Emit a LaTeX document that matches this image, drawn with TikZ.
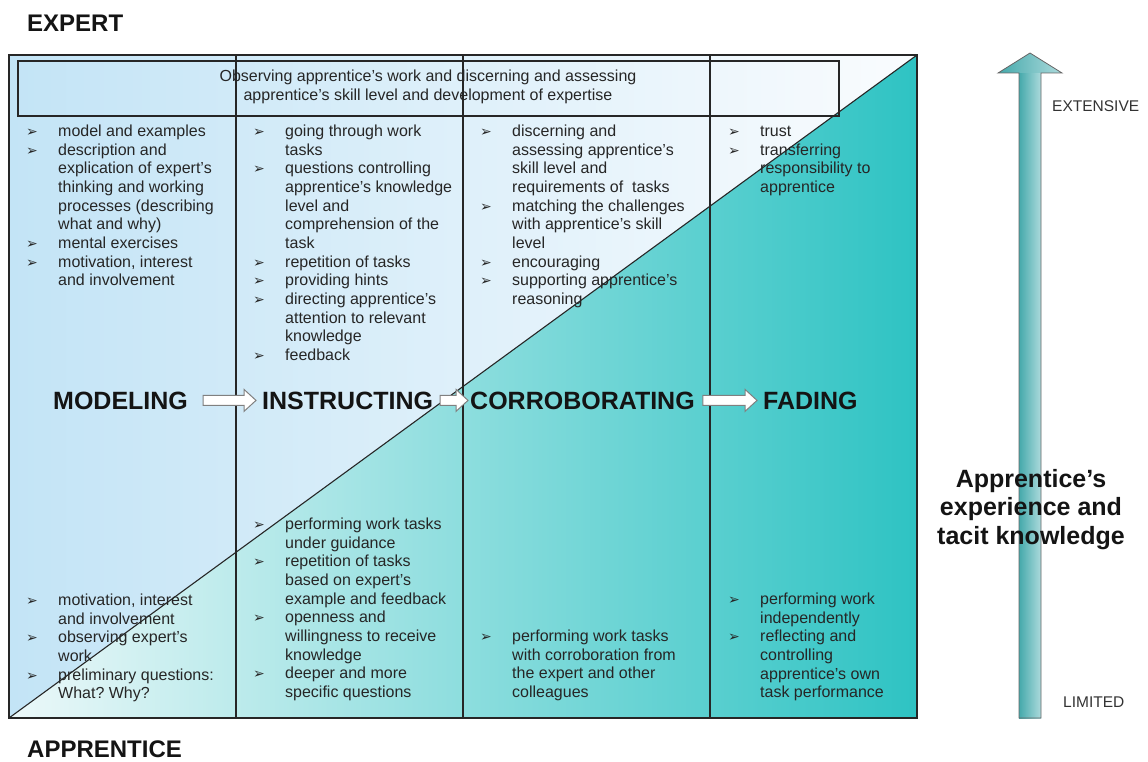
\documentclass[tikz,border=0pt]{standalone}
\usepackage{fontspec}
\setmainfont{Liberation Sans}
\newfontfamily\bulfont{DejaVu Sans}
\usetikzlibrary{calc}
\frenchspacing
\definecolor{txt}{HTML}{262626}
\definecolor{upL}{HTML}{C3E4F6}
\definecolor{upR}{HTML}{FAFCFE}
\definecolor{loL}{HTML}{ECF8F9}
\definecolor{loR}{HTML}{2EC3C3}
\definecolor{arL}{HTML}{45A9AB}
\definecolor{arR}{HTML}{ACDADC}
\newcommand\bl{\makebox[32pt][l]{\bulfont\fontsize{14}{14}\selectfont ➢}}
\newcommand\cn{\hspace*{32pt}}
\newcommand\blockarr[2]{\draw[barrow] let \p1=#1, \p2=#2 in
  (\x1,\y1+5pt) -- (\x2-12pt,\y1+5pt) -- (\x2-12pt,\y1+11pt) -- (\x2,\y1)
  -- (\x2-12pt,\y1-11pt) -- (\x2-12pt,\y1-5pt) -- (\x1,\y1-5pt) -- cycle;}
\tikzset{
  body/.style={anchor=base west, inner sep=0pt, font=\fontsize{16}{18.67}\selectfont, text=txt},
  stage/.style={anchor=base west, inner sep=0pt, font=\fontsize{25}{30}\selectfont\bfseries, text=black!92},
  role/.style={anchor=base west, inner sep=0pt, font=\fontsize{24}{28}\selectfont\bfseries, text=black!92},
  scale label/.style={anchor=base west, inner sep=0pt, font=\fontsize{15.5}{18}\selectfont, text=black!80},
  frame/.style={draw=black!85, line width=1.1pt},
  barrow/.style={draw=black!50, fill=white, line width=1pt},
}
\begin{document}
\begin{tikzpicture}[x=1pt,y=-1pt]
\useasboundingbox (0,0) rectangle (1148,762);
% background triangles
\shade[left color=upL, right color=upR] (9,55) -- (917,55) -- (9,718) -- cycle;
\shade[left color=loL, right color=loR] (9,718) -- (917,55) -- (917,718) -- cycle;
% frame and grid
\draw[frame] (9,55) rectangle (917,718);
\draw[frame] (18,61) rectangle (839,116);
\draw[frame] (236,55) -- (236,718);
\draw[frame] (463,55) -- (463,718);
\draw[frame] (710,55) -- (710,718);
\draw[frame] (9,718) -- (917,55);

% role labels
\node[role] (expert) at (27,32) {EXPERT};
\node[role] (apprentice) at (27,757) {APPRENTICE};

% top box text
\node[anchor=base, inner sep=0pt, font=\fontsize{16}{19}\selectfont, text=txt] (obs) at (428,82)
  {\begin{tabular}[t]{@{}c@{}}Observing apprentice's work and discerning and assessing\\
   apprentice's skill level and development of expertise\end{tabular}};

% upper columns
\node[body] (c1u) at (26,136.5) {\begin{tabular}[t]{@{}l@{}}
\bl model and examples\\
\bl description and\\
\cn explication of expert's\\
\cn thinking and working\\
\cn processes (describing\\
\cn what and why)\\
\bl mental exercises\\
\bl motivation, interest\\
\cn and involvement
\end{tabular}};
\node[body] (c2u) at (253,136.5) {\begin{tabular}[t]{@{}l@{}}
\bl going through work\\
\cn tasks\\
\bl questions controlling\\
\cn apprentice's knowledge\\
\cn level and\\
\cn comprehension of the\\
\cn task\\
\bl repetition of tasks\\
\bl providing hints\\
\bl directing apprentice's\\
\cn attention to relevant\\
\cn knowledge\\
\bl feedback
\end{tabular}};
\node[body] (c3u) at (480,136.5) {\begin{tabular}[t]{@{}l@{}}
\bl discerning and\\
\cn assessing apprentice's\\
\cn skill level and\\
\cn requirements of~ tasks\\
\bl matching the challenges\\
\cn with apprentice's skill\\
\cn level\\
\bl encouraging\\
\bl supporting apprentice's\\
\cn reasoning
\end{tabular}};
\node[body] (c4u) at (728,136.5) {\begin{tabular}[t]{@{}l@{}}
\bl trust\\
\bl transferring\\
\cn responsibility to\\
\cn apprentice
\end{tabular}};

% lower columns
\node[body] (c1l) at (26,605.5) {\begin{tabular}[t]{@{}l@{}}
\bl motivation, interest\\
\cn and involvement\\
\bl observing expert's\\
\cn work\\
\bl preliminary questions:\\
\cn What? Why?
\end{tabular}};
\node[body] (c2l) at (253,529.5) {\begin{tabular}[t]{@{}l@{}}
\bl performing work tasks\\
\cn under guidance\\
\bl repetition of tasks\\
\cn based on expert's\\
\cn example and feedback\\
\bl openness and\\
\cn willingness to receive\\
\cn knowledge\\
\bl deeper and more\\
\cn specific questions
\end{tabular}};
\node[body] (c3l) at (480,641.5) {\begin{tabular}[t]{@{}l@{}}
\bl performing work tasks\\
\cn with corroboration from\\
\cn the expert and other\\
\cn colleagues
\end{tabular}};
\node[body] (c4l) at (728,604.5) {\begin{tabular}[t]{@{}l@{}}
\bl performing work\\
\cn independently\\
\bl reflecting and\\
\cn controlling\\
\cn apprentice's own\\
\cn task performance
\end{tabular}};

% stages
\node[stage] (mod) at (53,409) {MODELING};
\node[stage] (ins) at (262,409) {INSTRUCTING};
\node[stage] (cor) at (470,409) {CORROBORATING};
\node[stage] (fad) at (763,409) {FADING};
\blockarr{($(mod.east)+(15,0)$)}{($(ins.west)+(-6,0)$)}
\blockarr{($(ins.east)+(7,0)$)}{($(cor.west)+(-2,0)$)}
\blockarr{($(cor.east)+(8,0)$)}{($(fad.west)+(-6,0)$)}

% right scale arrow
\coordinate (tip) at (1030,53);
\shade[left color=arL, right color=arR] (1019,718) rectangle (1041,73);
\shade[left color=arL, right color=arR] (998,73) -- (tip) -- (1062,73) -- cycle;
\draw[draw=black!60, line width=0.8pt] (1019,718) -- (1019,73) -- (998,73) -- (tip)
  -- (1062,73) -- (1041,73) -- (1041,718) -- cycle;
\node[scale label] (ext) at (1052,112) {EXTENSIVE};
\node[scale label] (lim) at (1063,707) {LIMITED};
\node[anchor=base, inner sep=0pt, font=\fontsize{25}{28.5}\selectfont\bfseries, text=black!92] (exp) at (1031,487)
  {\begin{tabular}[t]{@{}c@{}}Apprentice's\\experience and\\tacit knowledge\end{tabular}};
\end{tikzpicture}
\end{document}
